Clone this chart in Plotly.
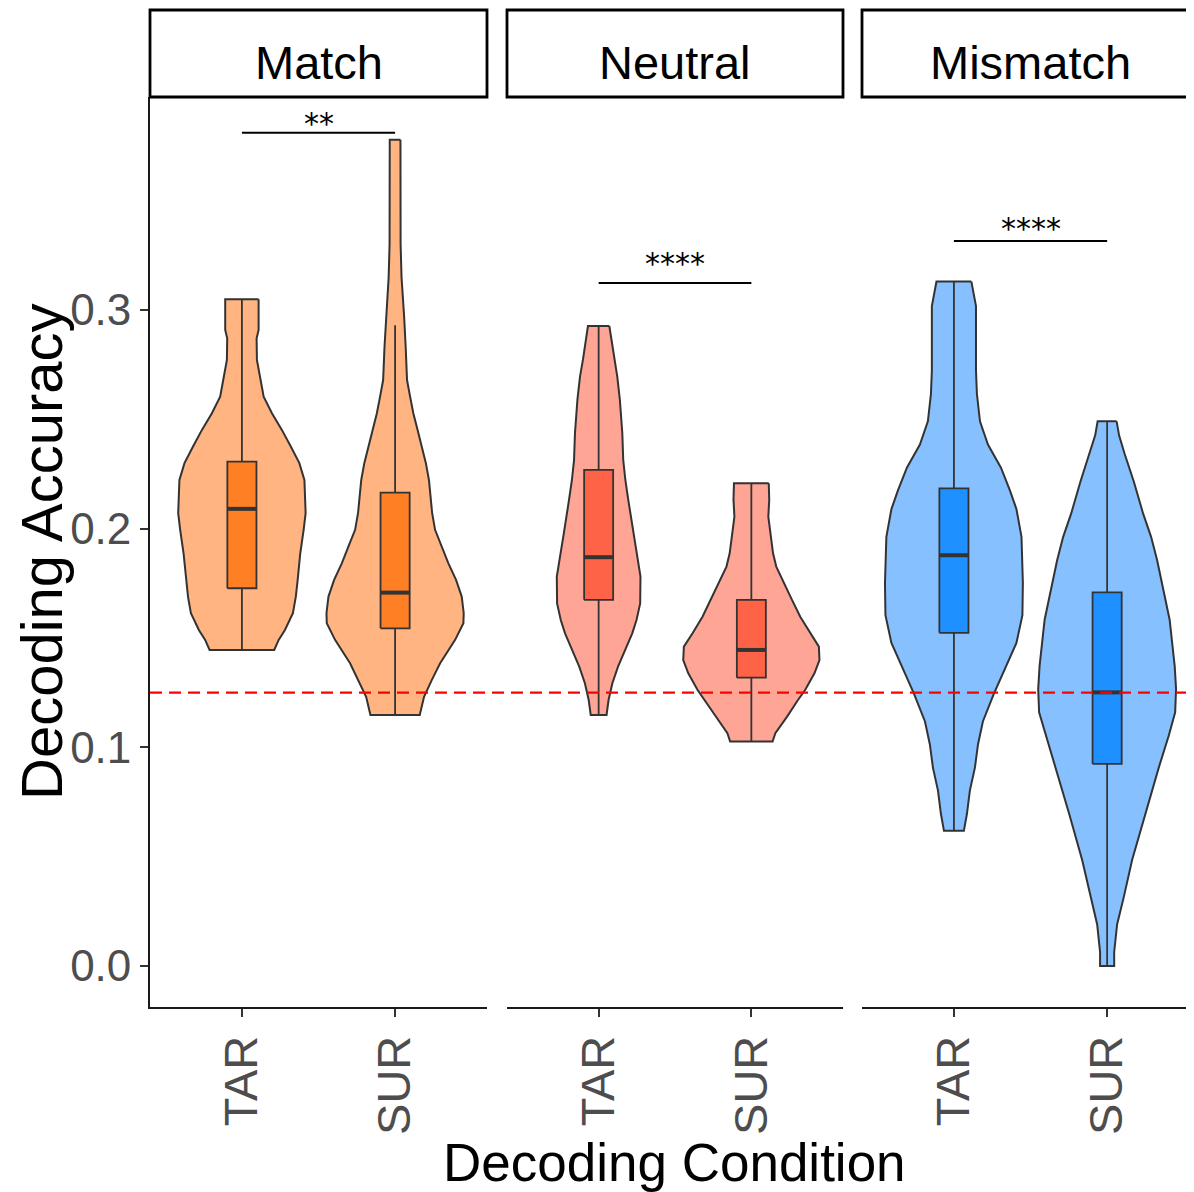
import plotly.graph_objects as go

# ---------------- data ----------------
panels = ["Match", "Neutral", "Mismatch"]
conditions = ["TAR", "SUR"]

# violin outlines: accuracy levels and half-widths (category units)
match_tar_y = [0.3048, 0.2908, 0.2870, 0.2771, 0.2679, 0.2603, 0.2527, 0.2451, 0.2374, 0.2299, 0.2222, 0.2070, 0.1994, 0.1887, 0.1765, 0.1689, 0.1613, 0.1536, 0.1491, 0.1445]
match_tar_w = [0.109, 0.109, 0.096, 0.098, 0.122, 0.142, 0.196, 0.261, 0.320, 0.375, 0.408, 0.416, 0.403, 0.381, 0.364, 0.352, 0.333, 0.281, 0.240, 0.211]
match_sur_y = [0.3777, 0.3400, 0.3300, 0.3150, 0.3045, 0.2969, 0.2832, 0.2679, 0.2603, 0.2527, 0.2451, 0.2374, 0.2299, 0.2222, 0.2070, 0.1994, 0.1917, 0.1841, 0.1765, 0.1689, 0.1613, 0.1567, 0.1491, 0.1384, 0.1308, 0.1231, 0.1148]
match_sur_w = [0.035, 0.035, 0.036, 0.042, 0.049, 0.059, 0.069, 0.078, 0.098, 0.119, 0.147, 0.174, 0.201, 0.221, 0.242, 0.261, 0.305, 0.348, 0.398, 0.435, 0.448, 0.446, 0.392, 0.294, 0.240, 0.189, 0.161]
neutral_tar_y = [0.2926, 0.2893, 0.2771, 0.2695, 0.2588, 0.2436, 0.2314, 0.2222, 0.2131, 0.1978, 0.1856, 0.1780, 0.1658, 0.1582, 0.1521, 0.1445, 0.1369, 0.1293, 0.1216, 0.1148]
neutral_tar_w = [0.070, 0.078, 0.103, 0.122, 0.139, 0.155, 0.161, 0.175, 0.194, 0.228, 0.258, 0.274, 0.272, 0.248, 0.220, 0.174, 0.127, 0.090, 0.065, 0.052]
neutral_sur_y = [0.2207, 0.2131, 0.2054, 0.1978, 0.1887, 0.1826, 0.1750, 0.1674, 0.1597, 0.1521, 0.1460, 0.1399, 0.1338, 0.1262, 0.1216, 0.1140, 0.1064, 0.1026]
neutral_sur_w = [0.114, 0.117, 0.111, 0.123, 0.142, 0.163, 0.212, 0.266, 0.320, 0.385, 0.442, 0.446, 0.413, 0.352, 0.305, 0.234, 0.157, 0.139]
mismatch_tar_y = [0.3129, 0.3017, 0.2722, 0.2616, 0.2490, 0.2384, 0.2278, 0.2173, 0.2089, 0.1962, 0.1751, 0.1604, 0.1477, 0.1371, 0.1245, 0.1118, 0.1013, 0.0907, 0.0802, 0.0696, 0.0618]
mismatch_tar_w = [0.114, 0.144, 0.144, 0.150, 0.170, 0.222, 0.307, 0.366, 0.408, 0.441, 0.450, 0.447, 0.408, 0.343, 0.261, 0.189, 0.157, 0.137, 0.104, 0.085, 0.065]
mismatch_sur_y = [0.2490, 0.2426, 0.2342, 0.2215, 0.2068, 0.1962, 0.1856, 0.1751, 0.1583, 0.1371, 0.1266, 0.1160, 0.1055, 0.0907, 0.0696, 0.0485, 0.0316, 0.0190, 0.0063, 0.0000]
mismatch_sur_w = [0.062, 0.078, 0.114, 0.174, 0.235, 0.287, 0.326, 0.359, 0.408, 0.441, 0.450, 0.444, 0.403, 0.337, 0.248, 0.163, 0.109, 0.065, 0.046, 0.046]

# box statistics per panel: [TAR, SUR]
box_low = [[0.1445, 0.1148], [0.1148, 0.1026], [0.0618, 0.0000]]
box_q1 = [[0.1727, 0.1544], [0.1674, 0.1318], [0.1523, 0.0924]]
box_med = [[0.2090, 0.1707], [0.1869, 0.1445], [0.1878, 0.1251]]
box_q3 = [[0.2306, 0.2164], [0.2268, 0.1674], [0.2184, 0.1708]]
box_high = [[0.3048, 0.2930], [0.2926, 0.2207], [0.3129, 0.2490]]

sig_labels = ["**", "****", "****"]
sig_bracket_y = [0.3809, 0.3123, 0.3315]
sig_label_y = [0.3882, 0.3242, 0.3402]

chance_level = 0.125
y_ticks = [0.0, 0.1, 0.2, 0.3]
y_ticktext = ["0.0", "0.1", "0.2", "0.3"]

violin_y = [[match_tar_y, match_sur_y], [neutral_tar_y, neutral_sur_y], [mismatch_tar_y, mismatch_sur_y]]
violin_w = [[match_tar_w, match_sur_w], [neutral_tar_w, neutral_sur_w], [mismatch_tar_w, mismatch_sur_w]]

# ---------------- style / layout ----------------
OFF = 8  # page offset of the figure inside the browser window
W, H = 1194 - OFF, 1192 - OFF


def fx(px):
    return (px - OFF) / W


def fy(py):
    return 1 - (py - OFF) / H


violin_fill = ["#FFB482", "#FFA596", "#87C0FF"]
box_fill = ["#FF7F24", "#FF6347", "#1E90FF"]
outline = "#333333"
sans = "Liberation Sans, Arial, sans-serif"
BOX_HALF = 0.095

px_l = [150, 507, 862]
px_r = [487, 843, 1194]
px_top, px_bot = 97, 1007
x_ranges = [[0.4, 2.6], [0.4, 2.6], [0.4, 2.567]]
y_range = [-0.01875, 0.3973]

axis_ids = ["x", "x2", "x3"]
xaxis_keys = ["xaxis", "xaxis2", "xaxis3"]

fig = go.Figure()


def line_trace(xs, ys, xa, color, width):
    return go.Scatter(x=xs, y=ys, mode="lines", line=dict(color=color, width=width),
                      xaxis=xa, yaxis="y", hoverinfo="skip", showlegend=False)


for p in range(3):
    xa = axis_ids[p]
    for c in range(2):
        pos = c + 1
        ys = violin_y[p][c]
        ws = violin_w[p][c]
        # violin body
        xs_poly = [pos + w for w in ws] + [pos - w for w in ws[::-1]] + [pos + ws[0]]
        ys_poly = list(ys) + list(ys[::-1]) + [ys[0]]
        fig.add_trace(go.Scatter(
            x=xs_poly, y=ys_poly, mode="lines", fill="toself",
            fillcolor=violin_fill[p], line=dict(color=outline, width=2),
            xaxis=xa, yaxis="y", hoverinfo="skip", showlegend=False))
        # whiskers
        fig.add_trace(line_trace([pos, pos], [box_q3[p][c], box_high[p][c]], xa, outline, 1.8))
        fig.add_trace(line_trace([pos, pos], [box_low[p][c], box_q1[p][c]], xa, outline, 1.8))
        # box
        bx = [pos - BOX_HALF, pos + BOX_HALF, pos + BOX_HALF, pos - BOX_HALF, pos - BOX_HALF]
        by = [box_q1[p][c], box_q1[p][c], box_q3[p][c], box_q3[p][c], box_q1[p][c]]
        fig.add_trace(go.Scatter(
            x=bx, y=by, mode="lines", fill="toself", fillcolor=box_fill[p],
            line=dict(color=outline, width=1.8), xaxis=xa, yaxis="y",
            hoverinfo="skip", showlegend=False))
        # median
        fig.add_trace(line_trace([pos - BOX_HALF, pos + BOX_HALF], [box_med[p][c]] * 2, xa, outline, 4))
    # significance bracket
    fig.add_trace(line_trace([1, 2], [sig_bracket_y[p]] * 2, xa, "black", 2))
    fig.add_annotation(x=1.5, y=sig_label_y[p], xref=xa, yref="y", text=sig_labels[p],
                       showarrow=False, yanchor="middle", yshift=-7,
                       font=dict(family="DejaVu Sans", size=30, color="black"))

    # strip header
    fig.add_shape(type="rect", xref="paper", yref="paper",
                  x0=fx(px_l[p]), x1=fx(px_r[p] + (8 if p == 2 else 0)),
                  y0=fy(px_top), y1=fy(10),
                  line=dict(color="black", width=2.8), fillcolor="white", layer="above")
    fig.add_annotation(x=1.5, y=fy(62), xref=xa, yref="paper", text=panels[p],
                       showarrow=False, yanchor="middle",
                       font=dict(family=sans, size=47, color="black"))

layout_axes = {}
for p in range(3):
    layout_axes[xaxis_keys[p]] = dict(
        domain=[fx(px_l[p]), min(fx(px_r[p]), 1.0)], range=x_ranges[p], anchor="y",
        tickmode="array", tickvals=[1, 2], ticktext=conditions, tickangle=-90,
        showline=True, linecolor="#1a1a1a", linewidth=1.8,
        ticks="outside", ticklen=8, tickwidth=1.6, tickcolor="#333333",
        tickfont=dict(family=sans, size=47, color="#4D4D4D"),
        showgrid=False, zeroline=False, fixedrange=True)

fig.update_layout(
    width=W, height=H,
    margin=dict(l=0, r=0, t=0, b=0),
    paper_bgcolor="white", plot_bgcolor="white",
    showlegend=False,
    yaxis=dict(domain=[fy(px_bot), fy(px_top)], range=y_range, anchor="x",
               tickmode="array", tickvals=y_ticks, ticktext=y_ticktext,
               showline=True, linecolor="#1a1a1a", linewidth=1.8,
               ticks="outside", ticklen=8, tickwidth=1.6, tickcolor="#333333",
               tickfont=dict(family=sans, size=44, color="#4D4D4D"),
               showgrid=False, zeroline=False, fixedrange=True),
    **layout_axes,
)

# chance level line
fig.add_shape(type="line", xref="paper", yref="y", x0=fx(px_l[0]), x1=1.0,
              y0=chance_level, y1=chance_level,
              line=dict(color="#FF0000", width=2.2, dash="12px,7px"), layer="above")

# axis titles
fig.add_annotation(x=fx(41), y=fy(552), xref="paper", yref="paper",
                   text="Decoding Accuracy", textangle=-90, showarrow=False,
                   xanchor="center", yanchor="middle",
                   font=dict(family=sans, size=58, color="black"))
fig.add_annotation(x=fx(674), y=fy(1162), xref="paper", yref="paper",
                   text="Decoding Condition", showarrow=False,
                   xanchor="center", yanchor="middle",
                   font=dict(family=sans, size=53, color="black"))

fig.write_html("out.html")
